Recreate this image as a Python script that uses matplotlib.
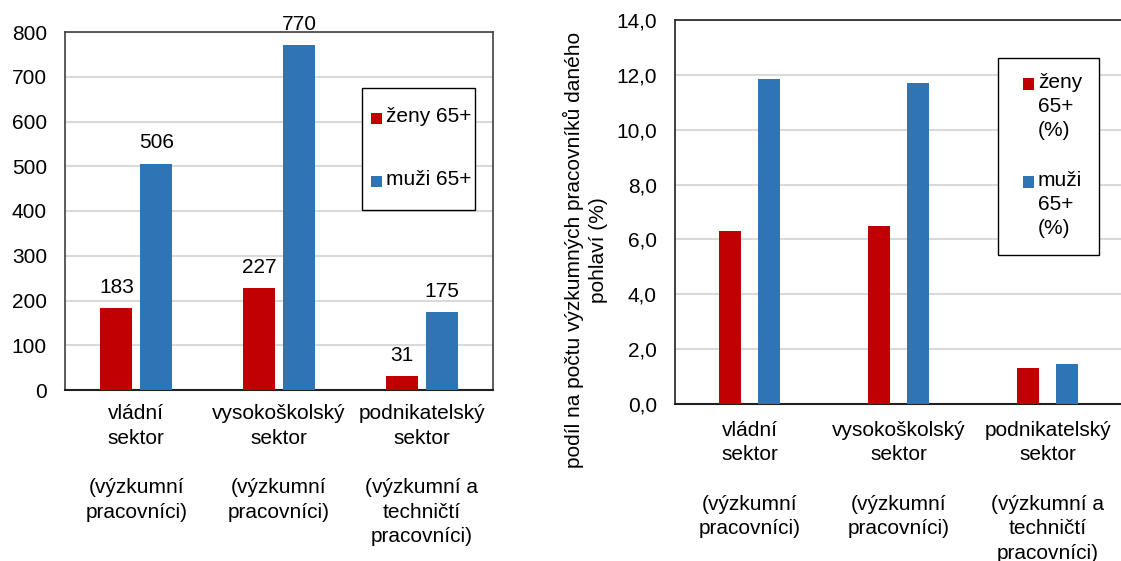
import numpy as np
import matplotlib
matplotlib.use("Agg")
import matplotlib.pyplot as plt
from matplotlib.patches import Rectangle

plt.rcParams['font.family'] = ['Liberation Sans', 'DejaVu Sans']

# data
kategorie = ["vládní\nsektor\n\n(výzkumní\npracovníci)",
             "vysokoškolský\nsektor\n\n(výzkumní\npracovníci)",
             "podnikatelský\nsektor\n\n(výzkumní a\ntechničtí\npracovníci)"]
zeny_pocet = [183, 227, 31]
muzi_pocet = [506, 770, 175]
zeny_podil = [6.3, 6.5, 1.3]
muzi_podil = [11.85, 11.7, 1.45]
leg_pocet = ["ženy 65+", "muži 65+"]
leg_podil = ["ženy\n65+\n(%)", "muži\n65+\n(%)"]

RED = "#C00000"
BLUE = "#2E75B6"
GRID = "#D9D9D9"
FS = 15
W, H = 1121, 561

fig = plt.figure(figsize=(11.21, 5.61), dpi=100)


def fx(px):
    return px / W


def fy(py):
    return 1 - py / H


def box_legend(box, items, colors):
    # box = (left, top, right, bottom) in pixels; items = (square_x, square_cy, text)
    l, t, r, b = box
    fig.patches.append(Rectangle((fx(l), fy(b)), fx(r - l), (b - t) / H,
                                 transform=fig.transFigure, fill=True, fc='white',
                                 ec='black', lw=1.0, zorder=5))
    for (sx, sy, txt), c in zip(items, colors):
        fig.patches.append(Rectangle((fx(sx), fy(sy + 5.5)), fx(11), 11 / H,
                                     transform=fig.transFigure, fc=c, ec='none', zorder=6))
        fig.text(fx(sx + 15), fy(sy - 11), txt, fontsize=FS, va='top', ha='left',
                 linespacing=1.35, zorder=7)


# ---- left chart: counts
ax1 = fig.add_axes([fx(65), fy(390), fx(428), 358 / H])
x = np.arange(len(kategorie))
w = 0.224
off = 0.14
b1 = ax1.bar(x - off, zeny_pocet, w, color=RED, zorder=3)
b2 = ax1.bar(x + off, muzi_pocet, w, color=BLUE, zorder=3)
ax1.bar_label(b1, padding=8, fontsize=FS)
ax1.bar_label(b2, padding=8, fontsize=FS)
ax1.set_xlim(-0.5, 2.5)
ax1.set_ylim(0, 800)
ax1.set_yticks(np.arange(0, 801, 100))
ax1.yaxis.grid(True, color=GRID, lw=1.5, zorder=0)
ax1.set_axisbelow(True)
ax1.set_xticks(x)
ax1.set_xticklabels(kategorie, fontsize=FS, linespacing=1.38)
ax1.tick_params(axis='both', length=0, labelsize=FS)
ax1.tick_params(axis='y', pad=13)
ax1.tick_params(axis='x', pad=10)
for s in ax1.spines.values():
    s.set_color("#404040")
    s.set_linewidth(1.2)
ax1.spines['bottom'].set_color("#202020")
ax1.spines['bottom'].set_linewidth(1.5)

box_legend((362, 88, 475, 210),
           [(371, 118, leg_pocet[0]), (371, 181, leg_pocet[1])], [RED, BLUE])

# ---- right chart: shares
ax2 = fig.add_axes([fx(675), fy(404), fx(447), 384 / H])
w2 = 0.15
off2 = 0.13
ax2.bar(x - off2, zeny_podil, w2, color=RED, zorder=3)
ax2.bar(x + off2, muzi_podil, w2, color=BLUE, zorder=3)
ax2.set_xlim(-0.5, 2.5)
ax2.set_ylim(0, 14)
ticks2 = np.arange(0, 14.1, 2)
ax2.set_yticks(ticks2)
ax2.set_yticklabels([f"{v:.1f}".replace(".", ",") for v in ticks2])
ax2.yaxis.grid(True, color=GRID, lw=1.5, zorder=0)
ax2.set_axisbelow(True)
ax2.set_xticks(x)
ax2.set_xticklabels(kategorie, fontsize=FS, linespacing=1.38)
ax2.tick_params(axis='both', length=0, labelsize=FS)
ax2.tick_params(axis='y', pad=13)
ax2.tick_params(axis='x', pad=12)
ax2.set_ylabel("podíl na počtu výzkumných pracovníků daného\npohlaví (%)",
               fontsize=FS, linespacing=1.3)
ax2.yaxis.set_label_coords(-0.15, 0.40)
for s in ax2.spines.values():
    s.set_color("#202020")
    s.set_linewidth(1.2)
ax2.spines['right'].set_visible(False)
ax2.spines['bottom'].set_linewidth(1.5)

box_legend((998, 58, 1099, 255),
           [(1023, 84, leg_podil[0]), (1023, 182, leg_podil[1])], [RED, BLUE])

fig.savefig("out.png", dpi=100)
